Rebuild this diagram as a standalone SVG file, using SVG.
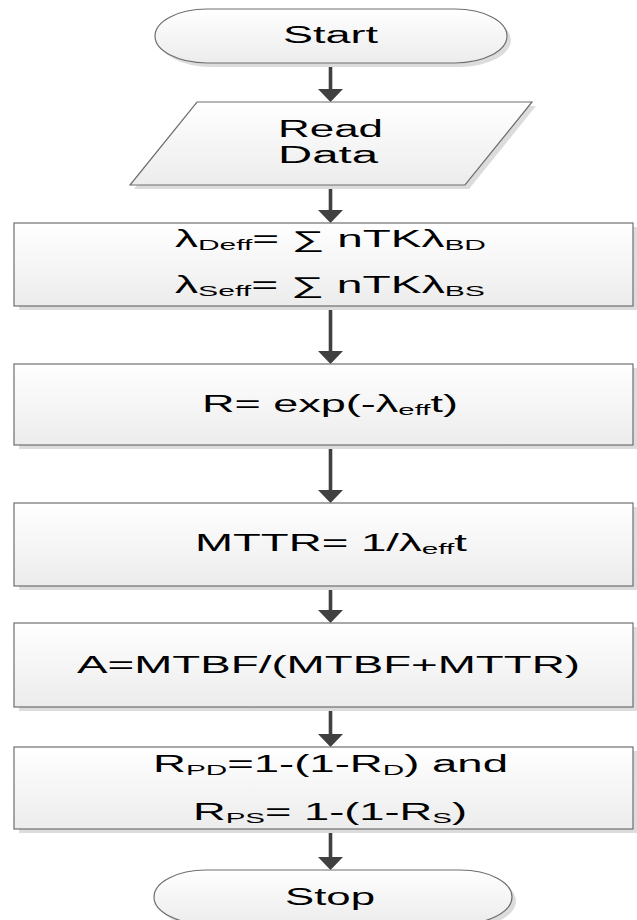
<svg xmlns="http://www.w3.org/2000/svg" width="637" height="920" viewBox="0 0 637 920">
<defs>
<linearGradient id="g" x1="0" y1="0" x2="0" y2="1">
<stop offset="0" stop-color="#ffffff"/>
<stop offset="1" stop-color="#ececec"/>
</linearGradient>
<marker id="ah" markerUnits="userSpaceOnUse" markerWidth="14" markerHeight="26" viewBox="0 -13 14 26" refX="0" refY="0" orient="auto">
<path d="M0,-12.5 L13,0 L0,12.5 Z" fill="#404040"/>
</marker>
<style>
.sh{fill:#dcdcdc;stroke:none}
.nd{fill:url(#g);stroke:#6e6e6e;stroke-width:1.2}
.t{font-family:"Liberation Sans",Arial,sans-serif;font-size:23px;fill:#000;text-anchor:middle}
.s{font-size:15px}
.cn{stroke:#404040;stroke-width:3.6;fill:none;marker-end:url(#ah)}
</style>
</defs>
<rect width="637" height="920" fill="#ffffff"/>

<g id="connectors">
<line class="cn" x1="330.5" y1="63" x2="330.5" y2="89"/>
<line class="cn" x1="330.5" y1="185" x2="330.5" y2="210"/>
<line class="cn" x1="330.5" y1="306" x2="330.5" y2="351"/>
<line class="cn" x1="330.5" y1="445" x2="330.5" y2="490"/>
<line class="cn" x1="330.5" y1="586" x2="330.5" y2="610"/>
<line class="cn" x1="330.5" y1="707" x2="330.5" y2="734"/>
<line class="cn" x1="330.5" y1="829" x2="330.5" y2="857"/>
</g>

<g id="start">
<path class="sh" d="M211,13 H459 A52,27 0 0 1 459,67 H211 A52,27 0 0 1 211,13 Z"/>
<path class="nd" d="M207,9 H455 A52,27 0 0 1 455,63 H207 A52,27 0 0 1 207,9 Z"/>
<text class="t" x="330.5" y="43" textLength="95" lengthAdjust="spacingAndGlyphs">Start</text>
</g>

<g id="read-data">
<polygon class="sh" points="201,106 536,106 469,189 134,189"/>
<polygon class="nd" points="197,102 532,102 465,185 130,185"/>
<text class="t" x="330.5" y="137" textLength="105" lengthAdjust="spacingAndGlyphs">Read</text>
<text class="t" x="328" y="163" textLength="100" lengthAdjust="spacingAndGlyphs">Data</text>
</g>

<g id="lambda-eff">
<rect class="sh" x="19" y="227" width="619" height="83"/>
<rect class="nd" x="14" y="223" width="619" height="83"/>
<text class="t" x="330.5" y="247" textLength="311" lengthAdjust="spacingAndGlyphs">λ<tspan class="s" dy="3">Deff</tspan><tspan dy="-3">= ∑ nTKλ</tspan><tspan class="s" dy="3">BD</tspan></text>
<text class="t" x="330" y="293" textLength="310" lengthAdjust="spacingAndGlyphs">λ<tspan class="s" dy="3">Seff</tspan><tspan dy="-3">= ∑ nTKλ</tspan><tspan class="s" dy="3">BS</tspan></text>
</g>

<g id="reliability">
<rect class="sh" x="19" y="368" width="619" height="81"/>
<rect class="nd" x="14" y="364" width="619" height="81"/>
<text class="t" x="330" y="412" textLength="256" lengthAdjust="spacingAndGlyphs">R= exp(-λ<tspan class="s" dy="3">eff</tspan><tspan dy="-3">t)</tspan></text>
</g>

<g id="mttr">
<rect class="sh" x="19" y="507" width="619" height="83"/>
<rect class="nd" x="14" y="503" width="619" height="83"/>
<text class="t" x="331" y="551" textLength="272" lengthAdjust="spacingAndGlyphs">MTTR= 1/λ<tspan class="s" dy="3">eff</tspan><tspan dy="-3">t</tspan></text>
</g>

<g id="availability">
<rect class="sh" x="19" y="627" width="619" height="84"/>
<rect class="nd" x="14" y="623" width="619" height="84"/>
<text class="t" x="328.5" y="673" textLength="503" lengthAdjust="spacingAndGlyphs">A=MTBF/(MTBF+MTTR)</text>
</g>

<g id="parallel-reliability">
<rect class="sh" x="19" y="751" width="619" height="82"/>
<rect class="nd" x="14" y="747" width="619" height="82"/>
<text class="t" x="330.5" y="772" textLength="355" lengthAdjust="spacingAndGlyphs">R<tspan class="s" dy="3">PD</tspan><tspan dy="-3">=1-(1-R</tspan><tspan class="s" dy="3">D</tspan><tspan dy="-3">) and</tspan></text>
<text class="t" x="330" y="820" textLength="274" lengthAdjust="spacingAndGlyphs">R<tspan class="s" dy="3">PS</tspan><tspan dy="-3">= 1-(1-R</tspan><tspan class="s" dy="3">S</tspan><tspan dy="-3">)</tspan></text>
</g>

<g id="stop">
<path class="sh" d="M210,874 H464 A52,27 0 0 1 464,928 H210 A52,27 0 0 1 210,874 Z"/>
<path class="nd" d="M206,870 H460 A52,27 0 0 1 460,924 H206 A52,27 0 0 1 206,870 Z"/>
<text class="t" x="330" y="905" textLength="90" lengthAdjust="spacingAndGlyphs">Stop</text>
</g>
</svg>
